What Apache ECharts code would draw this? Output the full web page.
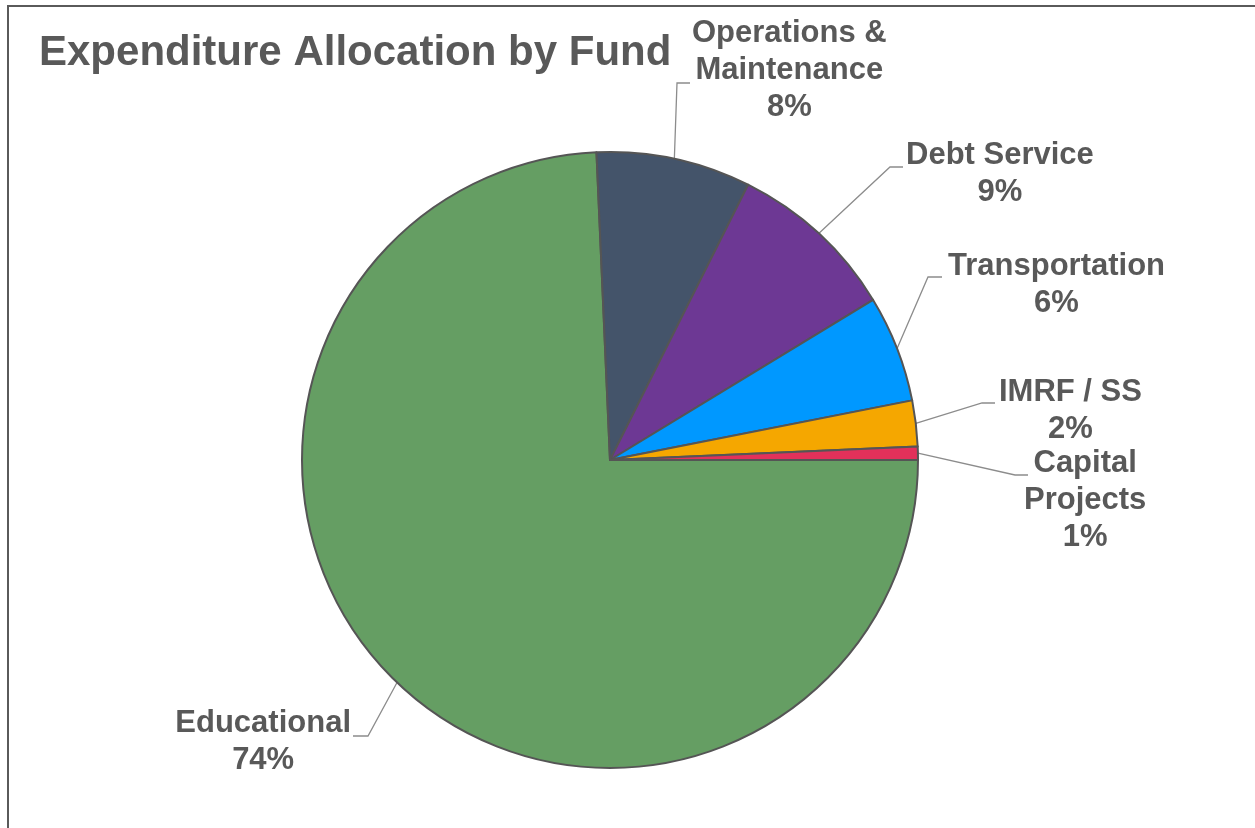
<!DOCTYPE html>
<html>
<head>
<meta charset="utf-8">
<title>Expenditure Allocation by Fund</title>
<script src="https://cdn.jsdelivr.net/npm/echarts@6/dist/echarts.min.js"></script>
<style>
    html, body { margin: 0; padding: 0; background: #fff; overflow: hidden; }
    #frame {
        position: absolute; left: 7px; top: 5px; width: 1400px; height: 1000px;
        border-left: 2px solid #5a5a5a; border-top: 2px solid #5a5a5a;
    }
    #chart { position: absolute; left: 0; top: 0; width: 1255px; height: 828px; }
</style>
</head>
<body>
<div id="frame"></div>
<div id="chart"></div>
<script>
// chart data (share of total, %)
const titleText = 'Expenditure Allocation by Fund';
const categories = ['Educational', 'Operations &\nMaintenance', 'Debt Service', 'Transportation', 'IMRF / SS', 'Capital\nProjects'];
const shares = [74.3, 8.1, 8.9, 5.6, 2.4, 0.7];
const sliceColors = ['#659E63', '#44546A', '#6D3894', '#0098FF', '#F5A700', '#E2315A'];

// where each label block sits (edge x, middle y) and where its leader line bends / ends
const labelSpots = [
    { x: 351, y: 742, align: 'right', elbowX: 368, endX: 353, lineY: 736 },
    { x: 692, y: 70, align: 'left', elbowX: 677, endX: 690, lineY: 83 },
    { x: 906, y: 174, align: 'left', elbowX: 890, endX: 903, lineY: 167 },
    { x: 948, y: 285, align: 'left', elbowX: 928, endX: 942, lineY: 277 },
    { x: 999, y: 411, align: 'left', elbowX: 982, endX: 995, lineY: 403 },
    { x: 1024, y: 500, align: 'left', elbowX: 1015, endX: 1028, lineY: 475 }
];

const fontFamily = '"Liberation Sans", Arial, sans-serif';
const textColor = '#595959';

const chart = echarts.init(document.getElementById('chart'), null, { renderer: 'canvas' });

const pieData = categories.map(function (name, i) {
    return { name: name, value: shares[i], itemStyle: { color: sliceColors[i] } };
});

chart.setOption({
    animation: false,
    backgroundColor: 'transparent',
    title: {
        text: titleText,
        left: 39,
        top: 32,
        padding: 0,
        textStyle: {
            fontFamily: fontFamily,
            fontSize: 42,
            lineHeight: 42,
            fontWeight: 'bold',
            color: textColor
        }
    },
    series: [{
        type: 'pie',
        center: [610, 460],
        radius: 308,
        startAngle: 0,
        clockwise: true,
        avoidLabelOverlap: false,
        data: pieData,
        itemStyle: { borderColor: '#555555', borderWidth: 2 },
        label: {
            show: true,
            position: 'outside',
            formatter: function (p) {
                return '{t|' + p.name + '}\n{t|' + Math.round(p.percent) + '%}';
            },
            rich: {
                t: {
                    fontFamily: fontFamily,
                    fontSize: 31,
                    lineHeight: 37,
                    fontWeight: 'bold',
                    color: textColor,
                    align: 'center'
                }
            }
        },
        labelLine: {
            show: true,
            length: 20,
            length2: 12,
            lineStyle: { color: '#8c8c8c', width: 1.3 }
        },
        labelLayout: function (p) {
            const s = labelSpots[p.dataIndex];
            const out = { x: s.x, y: s.y, align: s.align, verticalAlign: 'middle' };
            const pts = p.labelLinePoints;
            if (pts) {
                out.labelLinePoints = [pts[0], [s.elbowX, s.lineY], [s.endX, s.lineY]];
            }
            return out;
        },
        emphasis: { disabled: true }
    }]
});
</script>
</body>
</html>
